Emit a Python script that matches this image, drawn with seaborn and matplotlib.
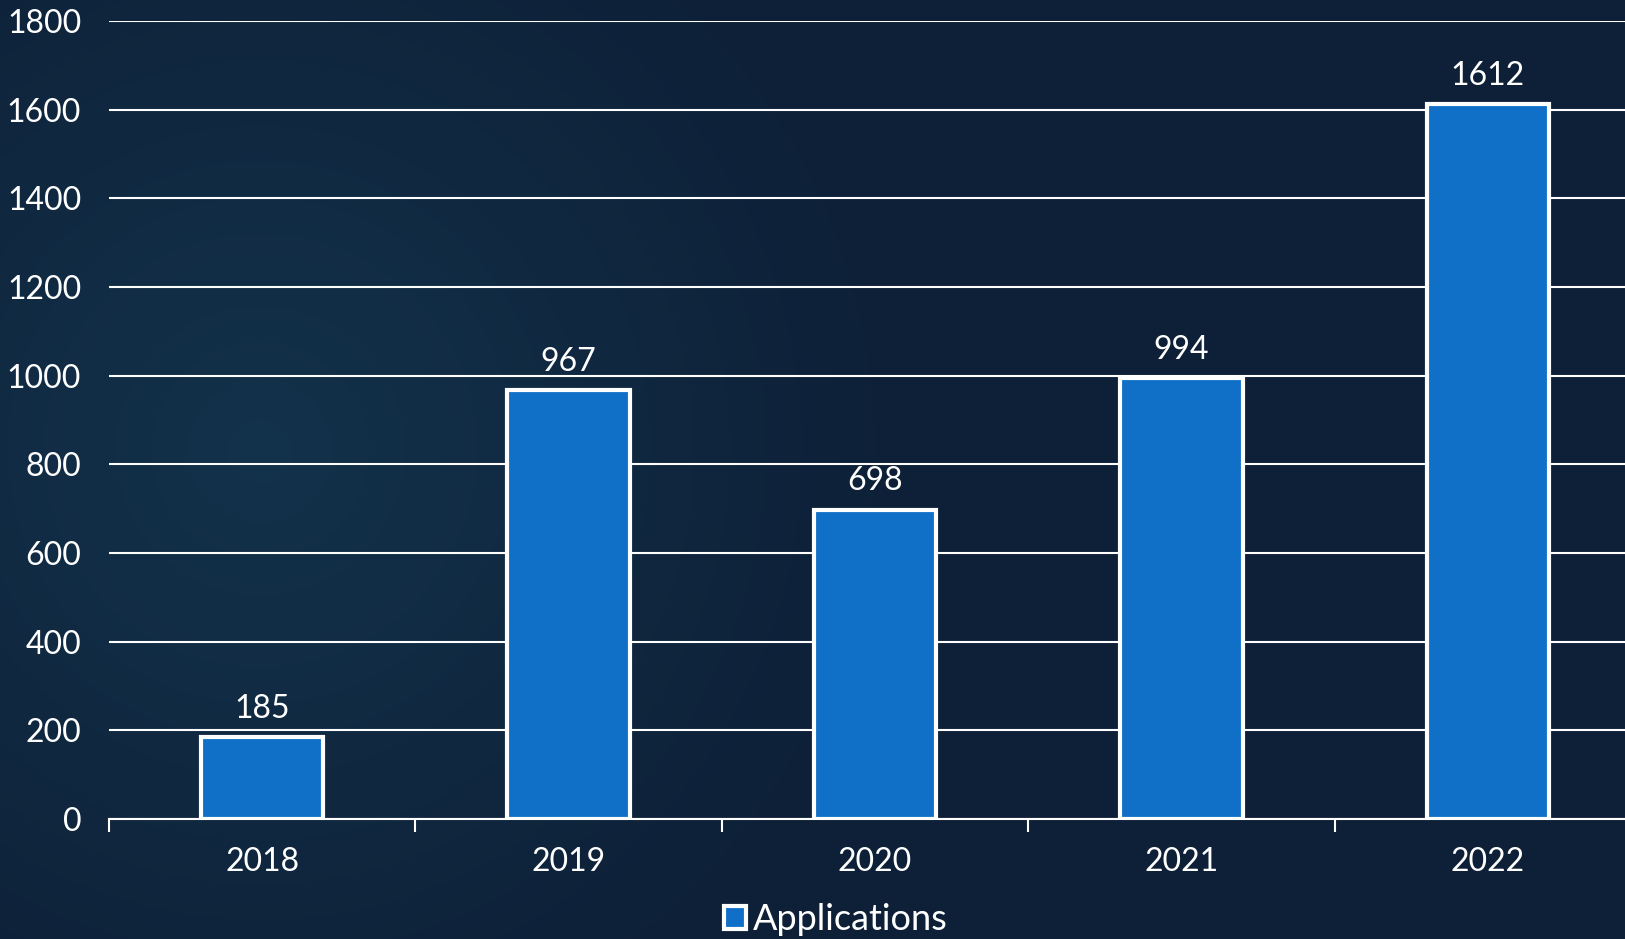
import matplotlib.pyplot as plt
import seaborn as sns
import pandas as pd
import numpy as np
from matplotlib.ticker import FixedLocator

# Dados do gráfico
anos = ["2018", "2019", "2020", "2021", "2022"]
aplicacoes = [185, 967, 698, 994, 1612]
serie = "Applications"
y_ticks = [0, 200, 400, 600, 800, 1000, 1200, 1400, 1600, 1800]

df = pd.DataFrame({"Ano": anos, "Valor": aplicacoes})

sns.set_theme(style="dark")
plt.rcParams["font.family"] = ["Lato", "DejaVu Sans"]

fig = plt.figure(figsize=(16.25, 9.39), dpi=100)

# fundo com gradiente radial
bg = fig.add_axes([0, 0, 1, 1])
yy, xx = np.mgrid[0:939, 0:1625]
r = np.sqrt((xx - 260) ** 2 + (yy - 450) ** 2) / 650
r = np.clip(r, 0, 1)
c0 = np.array([0x13, 0x32, 0x4b]) / 255
c1 = np.array([0x0d, 0x20, 0x37]) / 255
img = c0[None, None, :] * (1 - r[..., None]) + c1[None, None, :] * r[..., None]
bg.imshow(img, aspect="auto", extent=[0, 1, 0, 1])
bg.axis("off")

ax = fig.add_axes([109 / 1625, 1 - 819 / 939, 1532 / 1625, (819 - 21) / 939])
ax.patch.set_alpha(0)

sns.barplot(data=df, x="Ano", y="Valor", color="#1070c8", width=0.4,
            edgecolor="white", linewidth=3, saturation=1, label=serie, ax=ax, zorder=3)

for i, v in enumerate(aplicacoes):
    ax.text(i, v + 30, str(v), ha="center", va="bottom", color="white", fontsize=23)

ax.set_ylim(0, 1800)
ax.set_xlim(-0.5, 4.5)
ax.set_yticks(y_ticks)
ax.yaxis.grid(True, color="white", linewidth=1.5, zorder=0)
ax.set_axisbelow(True)
ax.tick_params(axis="y", colors="white", labelsize=23, length=0, pad=20)
ax.tick_params(axis="x", which="major", colors="white", labelsize=23, length=0, pad=20)
ax.xaxis.set_minor_locator(FixedLocator([-0.5, 0.5, 1.5, 2.5, 3.5, 4.5]))
ax.tick_params(axis="x", which="minor", bottom=True, colors="white", length=9,
               width=1.5, direction="out")
ax.set_xlabel("")
ax.set_ylabel("")
for s in ["top", "right", "left"]:
    ax.spines[s].set_visible(False)
ax.spines["bottom"].set_color("white")
ax.spines["bottom"].set_linewidth(1.5)
ax.spines["bottom"].set_zorder(4)

leg = ax.legend(loc="center", bbox_to_anchor=(836 / 1625, 1 - 920 / 939),
                bbox_transform=fig.transFigure, frameon=False, fontsize=26,
                handlelength=0.6, handleheight=0.6, handletextpad=0.2)
for t in leg.get_texts():
    t.set_color("white")

fig.savefig("out.png", dpi=100)
